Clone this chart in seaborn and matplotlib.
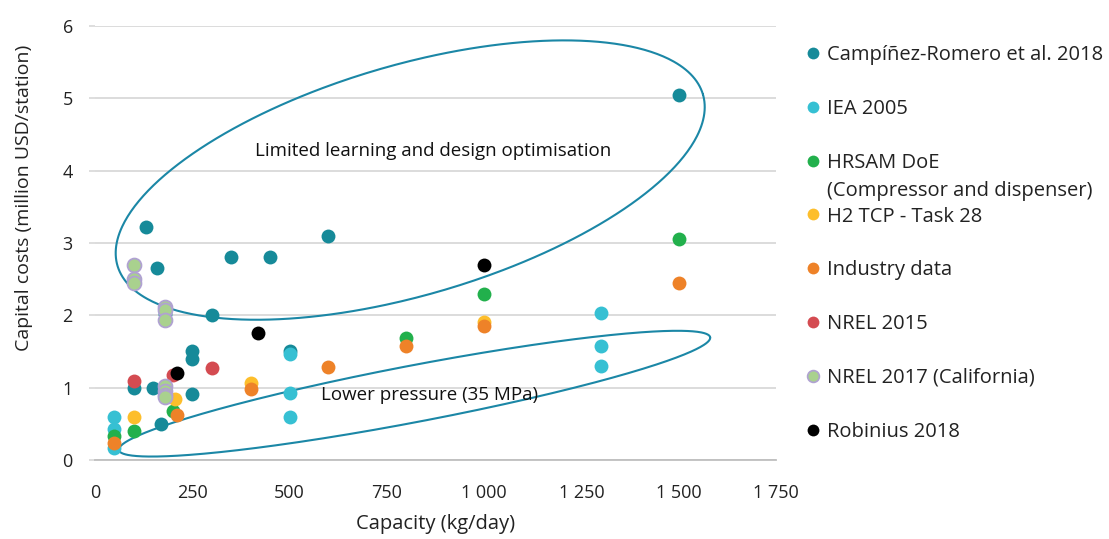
import numpy as np
import pandas as pd
import matplotlib
matplotlib.use("Agg")
import matplotlib.pyplot as plt
import seaborn as sns
from matplotlib.lines import Line2D

# ---------------- data ----------------
series_names = ["Campíñez-Romero et al. 2018", "IEA 2005", "HRSAM DoE",
                "H2 TCP - Task 28", "Industry data", "NREL 2015",
                "NREL 2017 (California)", "Robinius 2018"]

campinez_x = [130, 160, 180, 250, 250, 300, 350, 450, 600, 1500, 100, 150, 170, 250, 500]
campinez_y = [3.22, 2.65, 2.02, 1.51, 1.39, 2.00, 2.80, 2.80, 3.10, 5.05, 1.00, 1.00, 0.50, 0.91, 1.51]

iea_x = [50, 50, 50, 500, 500, 500, 1300, 1300, 1300]
iea_y = [0.60, 0.43, 0.16, 1.46, 0.93, 0.59, 2.03, 1.58, 1.30]

hrsam_x = [50, 100, 200, 800, 1000, 1500]
hrsam_y = [0.33, 0.40, 0.68, 1.69, 2.29, 3.05]

h2tcp_x = [100, 205, 400, 1000]
h2tcp_y = [0.60, 0.85, 1.06, 1.91]

industry_x = [50, 210, 400, 600, 800, 1000, 1500]
industry_y = [0.23, 0.62, 0.975, 1.29, 1.57, 1.85, 2.45]

nrel15_x = [100, 200, 300]
nrel15_y = [1.09, 1.17, 1.27]

nrel17_x = [100, 100, 100, 180, 180, 180, 180, 180, 180, 180]
nrel17_y = [2.70, 2.50, 2.45, 2.11, 2.07, 1.93, 1.02, 0.95, 0.90, 0.87]

robinius_x = [210, 420, 1000]
robinius_y = [1.20, 1.75, 2.70]

x_ticks = [0, 250, 500, 750, 1000, 1250, 1500, 1750]
x_tick_labels = ["0", "250", "500", "750", "1 000", "1 250", "1 500", "1 750"]
y_ticks = [0, 1, 2, 3, 4, 5, 6]

colors = ["#168A99", "#36C0D3", "#22B04C", "#FDBE2B", "#EE8228", "#D44B51", "#A9D18E", "#000000"]
edges = [None, None, None, None, None, None, "#B0A2D2", None]

frames = []
for name, xs, ys in zip(series_names,
                        [campinez_x, iea_x, hrsam_x, h2tcp_x, industry_x, nrel15_x, nrel17_x, robinius_x],
                        [campinez_y, iea_y, hrsam_y, h2tcp_y, industry_y, nrel15_y, nrel17_y, robinius_y]):
    frames.append(pd.DataFrame({"capacity": xs, "cost": ys, "source": name}))
df = pd.concat(frames, ignore_index=True)

# ---------------- figure ----------------
sns.set_theme(style="white")
plt.rcParams["font.family"] = ["Open Sans", "DejaVu Sans"]
W, H, DPI = 1109, 539, 100
fig = plt.figure(figsize=(W / DPI, H / DPI), dpi=DPI)
ax_l, ax_r, ax_t, ax_b = 95, 776, 26, 460
ax = fig.add_axes([ax_l / W, 1 - ax_b / H, (ax_r - ax_l) / W, (ax_b - ax_t) / H])

for i, name in enumerate(series_names):
    sub = df[df["source"] == name]
    if edges[i]:
        sns.scatterplot(data=sub, x="capacity", y="cost", ax=ax, color=colors[i],
                        edgecolor=edges[i], linewidth=1.3, s=100, zorder=3 + i, legend=False)
    else:
        sns.scatterplot(data=sub, x="capacity", y="cost", ax=ax, color=colors[i],
                        linewidth=0, s=100, zorder=3 + i, legend=False)

ax.set_xlim(0, 1750)
ax.set_ylim(0, 6)
ax.set_xticks(x_ticks)
ax.set_xticklabels(x_tick_labels)
ax.set_yticks(y_ticks)
ax.yaxis.grid(True, color="#D9D9D9", linewidth=1.3)
ax.xaxis.grid(False)
ax.set_axisbelow(True)
for s in ["top", "right", "left"]:
    ax.spines[s].set_visible(False)
ax.spines["bottom"].set_color("#BFBFBF")
ax.spines["bottom"].set_linewidth(1.3)
ax.tick_params(axis="y", which="both", left=True, length=4, color="#D9D9D9", labelsize=13,
               labelcolor="#222222", pad=12)
ax.tick_params(axis="x", bottom=False, labelsize=13, labelcolor="#222222", pad=11)
ax.set_xlabel("Capacity (kg/day)", fontsize=14.5, color="#222222", labelpad=9)
ax.set_ylabel("Capital costs (million USD/station)", fontsize=14, color="#222222")
ax.yaxis.set_label_coords(-0.091, 0.605)

# ---------------- ellipses (drawn in pixel space) ----------------
ppx = (ax_r - ax_l) / 1750.0
ppy = (ax_b - ax_t) / 6.0


def draw_ellipse(cx, cy, a_px, b_px, ang_deg):
    t = np.linspace(0, 2 * np.pi, 500)
    th = np.deg2rad(ang_deg)
    dx = a_px * np.cos(t) * np.cos(th) - b_px * np.sin(t) * np.sin(th)
    dy = a_px * np.cos(t) * np.sin(th) + b_px * np.sin(t) * np.cos(th)
    ax.plot(cx + dx / ppx, cy + dy / ppy, color="#1B87A6", linewidth=1.5, zorder=2, clip_on=False)


draw_ellipse(810, 3.87, 305, 115, 16.3)
draw_ellipse(821, 0.917, 301, 28.3, 10.8)

ax.text(411, 4.27, "Limited learning and design optimisation", fontsize=13.5,
        color="#111111", ha="left", va="center", zorder=20)
ax.text(581, 0.90, "Lower pressure (35 MPa)", fontsize=13.5,
        color="#111111", ha="left", va="center", zorder=20)

# ---------------- legend ----------------
handles = []
for i in range(len(series_names)):
    handles.append(Line2D([], [], linestyle="none", marker="o", markersize=8.5,
                          markerfacecolor=colors[i],
                          markeredgecolor=edges[i] if edges[i] else colors[i],
                          markeredgewidth=1.2 if edges[i] else 0))
leg = fig.legend(handles, series_names, loc="upper left",
                 bbox_to_anchor=(807 / W, 1 - 45 / H), frameon=False,
                 fontsize=14.5, handlelength=0.6, handletextpad=0.38,
                 labelspacing=1.68, borderpad=0, borderaxespad=0,
                 labelcolor="#222222")

fig.canvas.draw()
txt = leg.get_texts()[2]
bb = txt.get_window_extent()
x0 = bb.x0 / W
yc = (bb.y0 + bb.y1) / 2 - 28
fig.text(x0, yc / H, "(Compressor and dispenser)", fontsize=14.5, color="#222222",
         ha="left", va="center")

fig.savefig("out.png", dpi=DPI)
